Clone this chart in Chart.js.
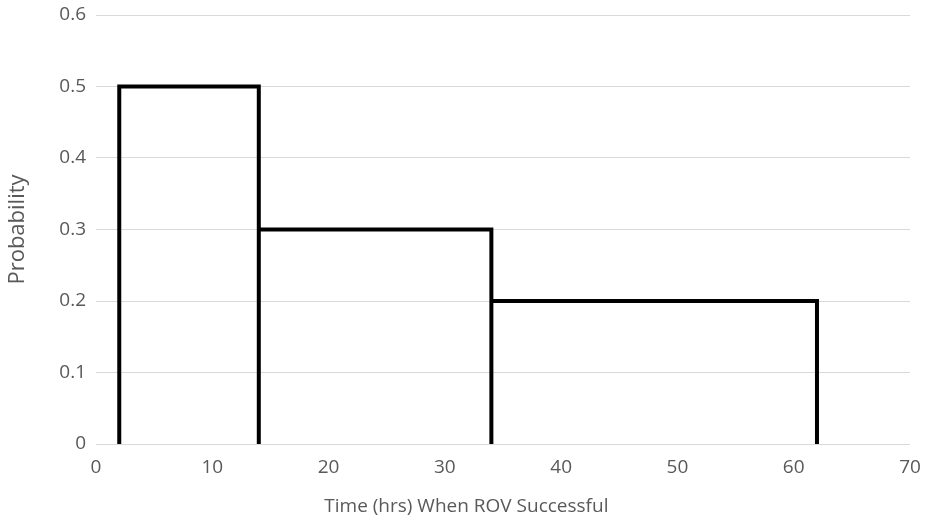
<!DOCTYPE html>
<html>
<head>
<meta charset="utf-8">
<script src="https://cdn.jsdelivr.net/npm/chart.js@4/dist/chart.umd.min.js"></script>
<style>
  html, body { margin: 0; padding: 0; background: #fff; }
  #wrap { width: 930px; height: 529px; }
</style>
</head>
<body>
<div id="wrap"><canvas id="c" width="930" height="529"></canvas></div>
<script>
// step distribution: interval edges (hrs) and probability of each interval
const edges = [2, 14, 34, 62];
const probs = [0.5, 0.3, 0.2];
const xTicks = [0, 10, 20, 30, 40, 50, 60, 70];
const yTicks = [0, 0.1, 0.2, 0.3, 0.4, 0.5, 0.6];
const xTitle = 'Time (hrs) When ROV Successful';

// outline each block: up, across, down
const pts = [];
probs.forEach((p, i) => {
    pts.push({ x: edges[i], y: 0 });
    pts.push({ x: edges[i], y: p });
    pts.push({ x: edges[i + 1], y: p });
    pts.push({ x: edges[i + 1], y: 0 });
});

const txt = '#595959';
const fontFamily = 'Open Sans, Liberation Sans, sans-serif';
const font = { family: fontFamily, size: 19 };

// x title sits a bit left of the plot centre, so draw it by hand
const xTitlePlugin = {
    id: 'xTitle',
    afterDraw(chart) {
        const ctx = chart.ctx;
        const area = chart.chartArea;
        ctx.save();
        ctx.font = `19px ${fontFamily}`;
        ctx.fillStyle = txt;
        ctx.textAlign = 'center';
        ctx.textBaseline = 'middle';
        ctx.fillText(xTitle, area.left + (area.right - area.left) * 0.455, 507);
        ctx.restore();
    }
};

new Chart(document.getElementById('c'), {
    type: 'scatter',
    data: {
        datasets: [{
            data: pts,
            showLine: true,
            borderColor: '#000',
            borderWidth: 4,
            borderJoinStyle: 'miter',
            pointRadius: 0,
            tension: 0
        }]
    },
    options: {
        responsive: false,
        animation: false,
        layout: { padding: { top: 15, right: 20, left: 0, bottom: 0 } },
        plugins: { legend: { display: false }, tooltip: { enabled: false } },
        scales: {
            x: {
                type: 'linear', min: 0, max: 70,
                afterBuildTicks: s => { s.ticks = xTicks.map(v => ({ value: v })); },
                afterFit: s => { s.height = 85; s.paddingLeft = 0; s.paddingRight = 0; },
                grid: { display: false, drawTicks: false },
                border: { display: false },
                ticks: { color: txt, font, padding: 12 }
            },
            y: {
                type: 'linear', min: 0, max: 0.6,
                afterBuildTicks: s => { s.ticks = yTicks.map(v => ({ value: v })); },
                afterFit: s => { s.width = 96; s.paddingTop = 0; s.paddingBottom = 0; },
                grid: { color: '#d9d9d9', lineWidth: 1, drawTicks: false },
                border: { display: false },
                ticks: { color: txt, font, padding: 10, callback: v => String(+v.toFixed(1)) },
                title: { display: true, text: 'Probability', color: txt, font: { family: fontFamily, size: 22 }, padding: { top: 5, bottom: 4 } }
            }
        }
    },
    plugins: [xTitlePlugin]
});
</script>
</body>
</html>
